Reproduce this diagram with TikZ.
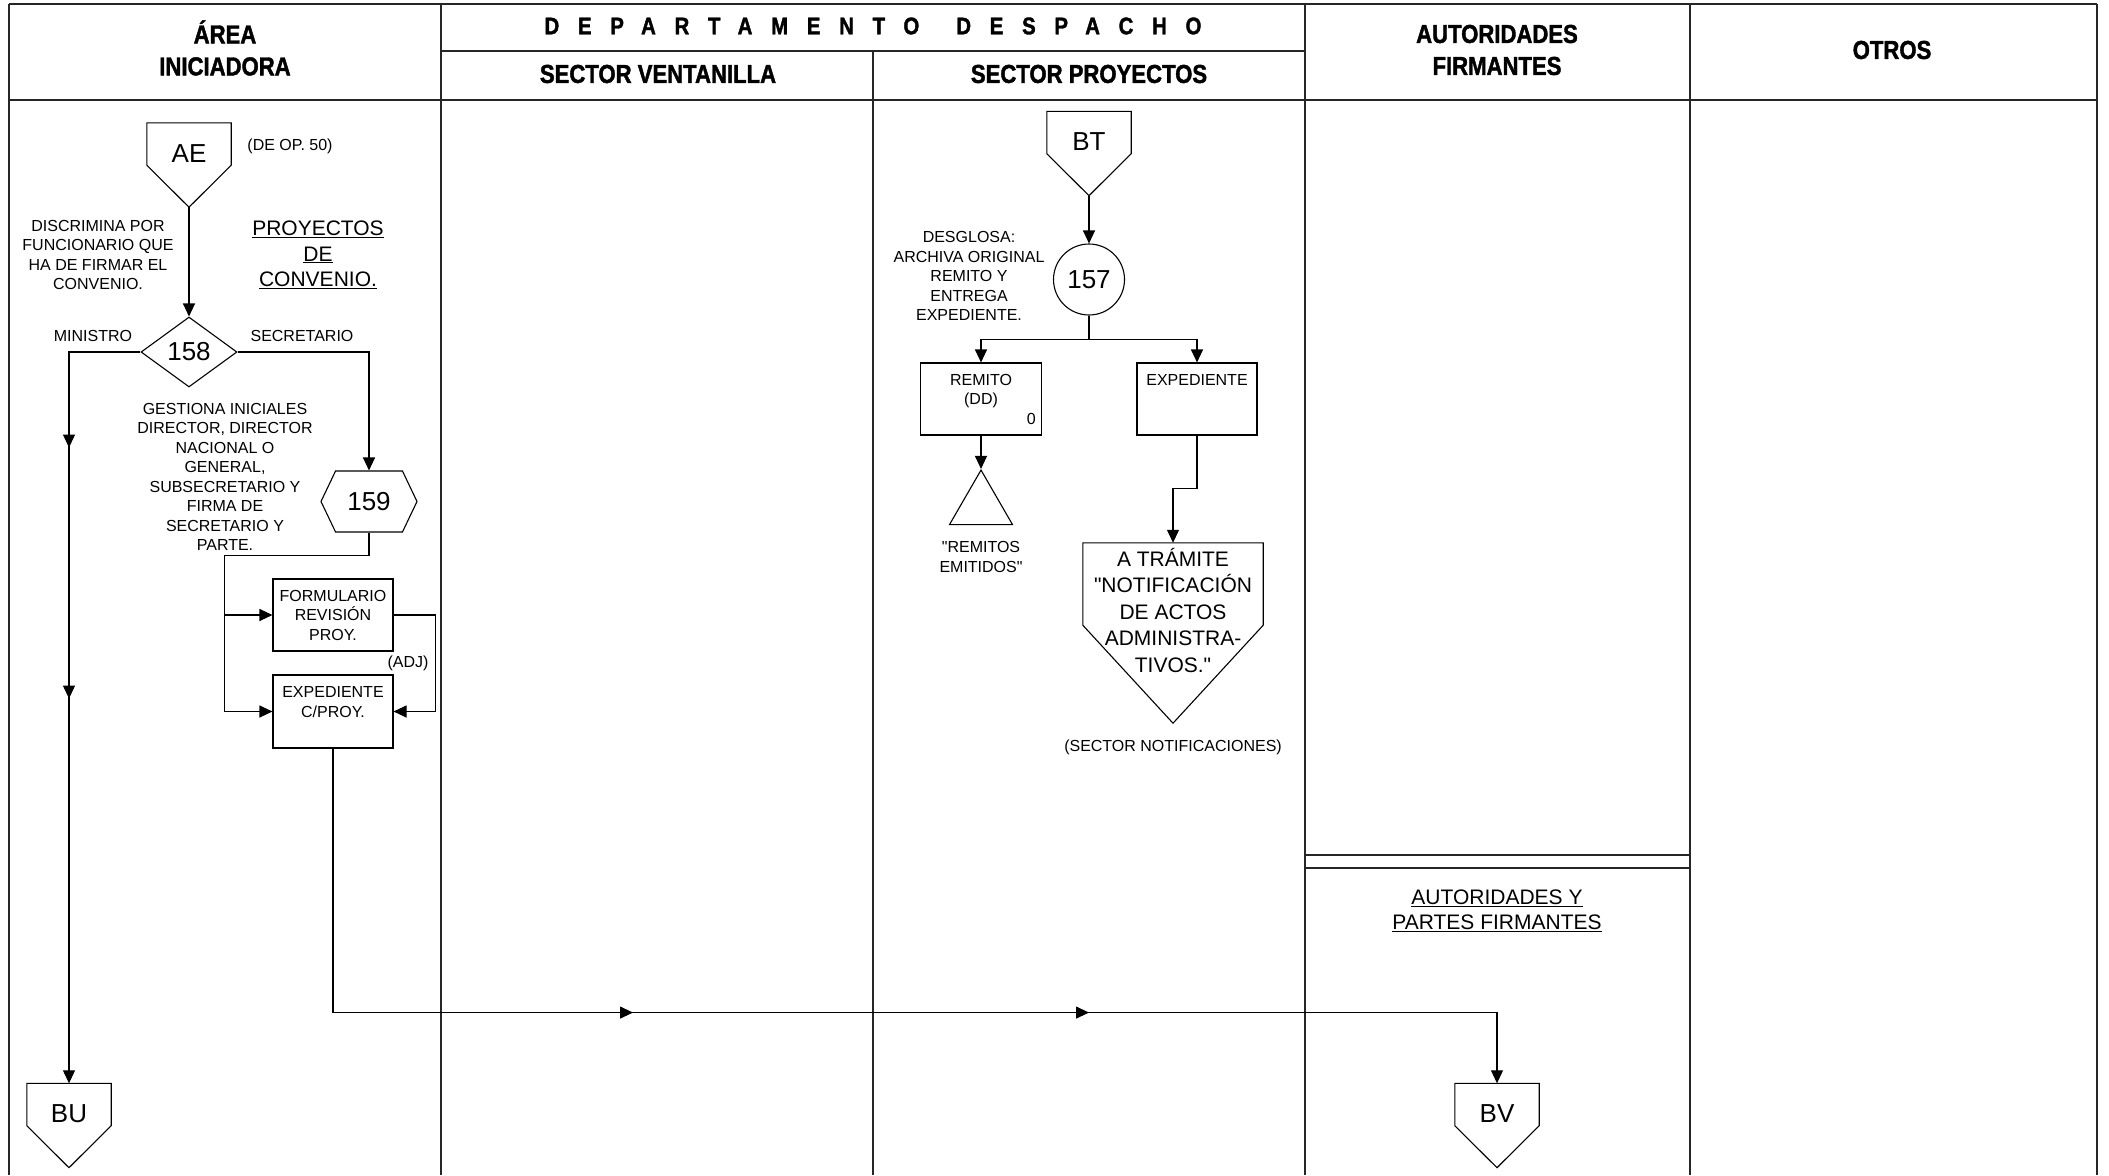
\documentclass[tikz,border=0pt]{standalone}
\usepackage{fontspec}
\setmainfont[Ligatures=TeXOff]{Liberation Sans}
\newfontfamily\hdfont[FakeStretch=0.85, FakeBold=1.5]{Liberation Sans}
\newfontfamily\hdspaced[FakeStretch=0.85, FakeBold=1.5, LetterSpace=78]{Liberation Sans}
\usetikzlibrary{positioning, arrows.meta, calc, shapes.geometric, shapes.symbols, decorations.markings}
\newcommand{\fsmall}{\fontsize{16}{19.5}\selectfont}
\newcommand{\fmid}{\fontsize{21}{25.5}\selectfont}
\newcommand{\fbig}{\fontsize{26}{30}\selectfont}
\newcommand{\fhead}{\hdfont\bfseries\fontsize{26}{32}\selectfont}

\begin{document}
\begin{tikzpicture}[
    x=1pt, y=-1pt,
    >={Triangle[length=13pt, width=12pt]},
    frame/.style={line width=1.5pt, black!85},
    shp/.style={draw, line width=1.1pt},
    head/.style={font=\fhead, align=center, inner sep=0pt},
    txt/.style={font=\fsmall, align=center, inner sep=0pt},
    ttl/.style={font=\fmid, align=center, inner sep=0pt},
    box/.style={rectangle, shp, minimum width=120pt,
                minimum height=72pt, inner sep=0pt, font=\fsmall, align=center},
    offpage/.style={rectangle, minimum width=84pt, minimum height=42pt,
                inner sep=0pt, font=\fbig, text height=38pt, text depth=1.3pt},
    arrow/.style={->, line width=1.1pt},
    midarr/.style 2 args={postaction={decorate}, decoration={markings,
                mark=at position #1 with {\arrow{>}},
                mark=at position #2 with {\arrow{>}}}},
]
\useasboundingbox (0,0) rectangle (2109,1175);

% === lanes ===
\foreach \x in {9,441,1305,1690,2097}
    \draw[frame] (\x,4) -- (\x,1175);
\draw[frame] (873,51) -- (873,1175);
\draw[frame] (9,4) -- (2097,4);
\draw[frame] (441,51) -- (1305,51);
\draw[frame] (9,100) -- (2097,100);
\draw[frame] (1305,855) -- (1690,855);
\draw[frame] (1305,868) -- (1690,868);

% === headers ===
\node[head] (hini) at (225,48) {ÁREA\\INICIADORA};
\node[head, font=\hdspaced\bfseries\fontsize{24}{32}\selectfont] (hdep) at (873,26)
    {DEPARTAMENTO\hspace{37pt}DESPACHO};
\node[head] (hven) at (658,74) {SECTOR VENTANILLA};
\node[head] (hpro) at (1089,74) {SECTOR PROYECTOS};
\node[head] (haut) at (1497,50) {AUTORIDADES\\FIRMANTES};
\node[head] (hotr) at (1892,50) {OTROS};

% === Área iniciadora ===
\node[offpage] (ae) at (189,144) {AE};
\node[txt] (deop) at (290,146) {(DE OP. 50)};
\node[txt] (discr) at (98,255) {DISCRIMINA POR\\FUNCIONARIO QUE\\HA DE FIRMAR EL\\CONVENIO.};
\node[ttl] (proy) at (318,255) {\underline{PROYECTOS}\\\underline{DE}\\\underline{CONVENIO.}};
\node[diamond, shp, aspect=1.37, minimum width=96pt,
      minimum height=70pt, inner sep=0pt, font=\fbig] (d158) at (189,352) {158};
\node[txt] (mini) at (93,336) {MINISTRO};
\node[txt] (secr) at (302,336) {SECRETARIO};
\node[txt] (gest) at (225,477) {GESTIONA INICIALES\\DIRECTOR, DIRECTOR\\NACIONAL O\\GENERAL,\\SUBSECRETARIO Y\\FIRMA DE\\SECRETARIO Y\\PARTE.};
\node[signal, signal to=west and east, signal pointer angle=129, shp,
      minimum width=96pt, minimum height=61pt,
      inner sep=0pt, font=\fbig] (h159) at (369,501.5) {159};
\node[box] (form) at (333,615) {FORMULARIO\\REVISIÓN\\PROY.};
\node[box, minimum height=73pt] (exp2) at (333,711.5) {EXPEDIENTE\\C/PROY.\\\mbox{}};
\node[txt] (adj) at (408,663) {(ADJ)};
\node[offpage] (bu) at (69,1104.5) {BU};

\draw[arrow] ([yshift=-42pt]ae.south) -- (d158);
\draw[arrow, midarr={167pt}{418pt}] (d158.west) -| (bu.north);
\draw[arrow] (d158.east) -| (h159.north);
\draw[arrow] (h159.south) -- ++(0,23) -| ($(exp2.west)+(-48,0)$) -- (exp2.west);
\draw[arrow] ($(form.west)+(-48,0)$) -- (form.west);
\draw[arrow] (form.east) -- ++(42,0) |- (exp2.east);

% === Sector proyectos ===
\node[offpage] (bt) at (1089,132.5) {BT};
\node[circle, shp, minimum size=71pt, inner sep=0pt,
      font=\fbig] (c157) at (1089,279.5) {157};
\node[txt] (desg) at (969,276) {DESGLOSA:\\ARCHIVA ORIGINAL\\REMITO Y\\ENTREGA\\EXPEDIENTE.};
\node[box, minimum width=121pt] (remito) at (981,399) {REMITO\\(DD)\\\mbox{}};
\node[txt, anchor=south east] (cero) at ([xshift=-6pt, yshift=11pt]remito.south east) {0};
\node[box] (expd) at (1197,399) {EXPEDIENTE\\\mbox{}\\\mbox{}};
\node[regular polygon, regular polygon sides=3, shp,
      minimum size=72.7pt, inner sep=0pt] (tri) at (981,506.4) {};
\node[txt] (emit) at (981,557) {"REMITOS\\EMITIDOS"};
\node[rectangle, minimum width=180pt, minimum height=82pt, inner sep=0pt] (tram) at (1173,584) {};
\node[ttl, font=\fontsize{21}{26.5}\selectfont] (tramtxt) at (1173,610)
    {A TRÁMITE\\"NOTIFICACIÓN\\DE ACTOS\\ADMINISTRA-\\TIVOS."};
\node[txt] (notif) at (1173,747) {(SECTOR NOTIFICACIONES)};

\draw[arrow] ([yshift=-42pt]bt.south) -- (c157);
\draw[arrow] (c157.south) -- ++(0,24) -| (remito.north);
\draw[arrow] (c157.south) -- ++(0,24) -| (expd.north);
\draw[arrow] (remito) -- (tri);
\draw[arrow] (expd.south) -- ++(0,53) -| (tram.north);

% === Autoridades firmantes ===
\node[ttl] (firm) at (1497,911) {\underline{AUTORIDADES Y}\\\underline{PARTES FIRMANTES}};
\node[offpage] (bv) at (1497,1104.5) {BV};

\draw[arrow, midarr={564pt}{1020pt}] (exp2.south) -- ++(0,264) -| (bv.north);

% off-page connector outlines
\foreach \n in {ae,bt,bu,bv}
    \draw[shp] (\n.north west) -- (\n.north east) -- (\n.south east)
        -- ([yshift=-42pt]\n.south) -- (\n.south west) -- cycle;
\draw[shp] (tram.north west) -- (tram.north east) -- (tram.south east)
    -- ([yshift=-98pt]tram.south) -- (tram.south west) -- cycle;

\end{tikzpicture}
\end{document}
